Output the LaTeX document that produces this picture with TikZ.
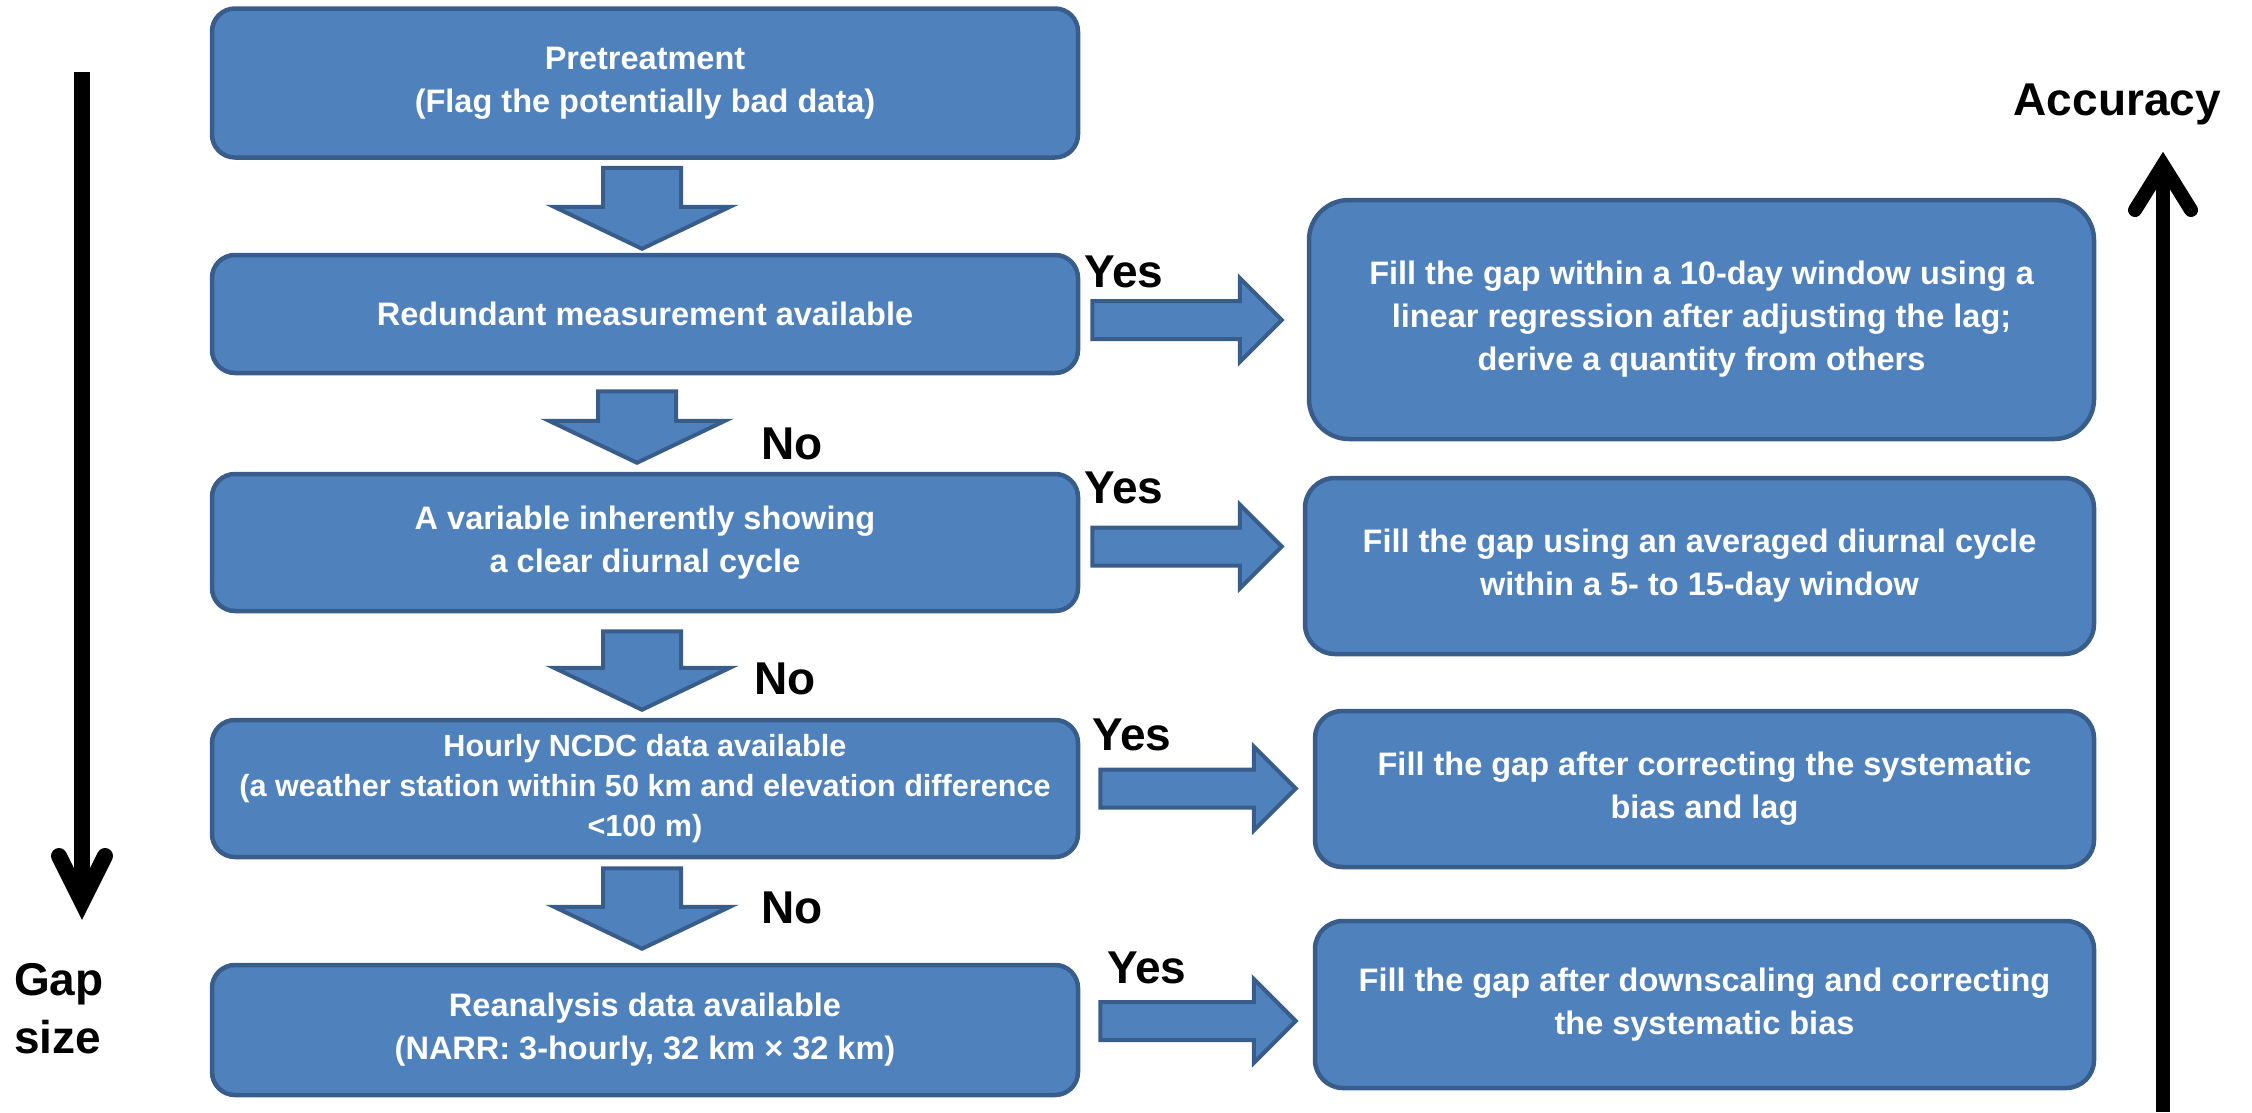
\documentclass[tikz,border=0pt]{standalone}
\usepackage{fontspec}
\setmainfont{Liberation Sans}
\usetikzlibrary{calc}
\definecolor{boxfill}{HTML}{4F81BD}
\definecolor{boxline}{HTML}{385D8A}
\begin{document}
\begin{tikzpicture}[x=1pt,y=-1pt,
  box/.style={draw=boxline, fill=boxfill, line width=4.5pt, text=white, align=center, inner sep=0pt,
    font=\bfseries\fontsize{32.5}{43}\selectfont},
  lbox/.style={box, minimum width=866pt, rounded corners=23pt},
  rbox/.style={box, rounded corners=#1},
  blk/.style={draw=boxline, fill=boxfill, line width=4pt, line join=miter},
  bdown/.style={to path={let \p1=(\tikztostart), \p2=(\tikztotarget) in
    (\x1-39pt,\y1) -- (\x1+39pt,\y1) -- (\x1+39pt,\y2+42pt) -- (\x1+88pt,\y2+42pt) -- (\x1,\y2)
    -- (\x1-88pt,\y2+42pt) -- (\x1-39pt,\y2+42pt) -- cycle}},
  bright/.style={to path={let \p1=(\tikztostart), \p2=(\tikztotarget) in
    (\x1,\y1+19pt) -- (\x2-42pt,\y1+19pt) -- (\x2-42pt,\y1+42pt) -- (\x2,\y1)
    -- (\x2-42pt,\y1-42pt) -- (\x2-42pt,\y1-19pt) -- (\x1,\y1-19pt) -- cycle}},
  lab/.style={font=\bfseries\fontsize{46}{58}\selectfont, inner sep=0pt, text=black},
  bigline/.style={draw=black, line width=#1},
]
\useasboundingbox (0,0) rectangle (2252,1112);

% left column
\node[lbox, minimum height=149pt] (L1) at (645,83) {Pretreatment\\(Flag the potentially bad data)};
\node[lbox, minimum height=118pt] (L2) at (645,314) {Redundant measurement available};
\node[lbox, minimum height=137pt] (L3) at (645,542.5) {A variable inherently showing\\a clear diurnal cycle};
\node[lbox, minimum height=137pt, font=\bfseries\fontsize{30.6}{40}\selectfont] (L4) at (645,788.5)
  {Hourly NCDC data available\\(a weather station within 50 km and elevation difference\\<100 m)};
\node[lbox, minimum height=130pt] (L5) at (645,1030) {Reanalysis data available\\(NARR: 3-hourly, 32 km \texttimes{} 32 km)};

% right column
\node[rbox=40pt, minimum width=785pt, minimum height=239pt] (R1) at (1701.5,319.5)
  {Fill the gap within a 10-day window using a\\linear regression after adjusting the lag;\\derive a quantity from others};
\node[rbox=30pt, minimum width=789pt, minimum height=176pt] (R2) at (1699.5,566)
  {Fill the gap using an averaged diurnal cycle\\within a 5- to 15-day window};
\node[rbox=27pt, minimum width=779pt, minimum height=156pt] (R3) at (1704.5,789)
  {Fill the gap after correcting the systematic\\bias and lag};
\node[rbox=28pt, minimum width=779pt, minimum height=167pt] (R4) at (1704.5,1004.5)
  {Fill the gap after downscaling and correcting\\the systematic bias};

% down block arrows
\draw[blk] ($(L1.south)+(-3,8)$) to[bdown] ($(L2.north)+(-3,-4)$);
\draw[blk] ($(L2.south)+(-8,16)$) to[bdown] ($(L3.north)+(-8,-9)$);
\draw[blk] ($(L3.south)+(-3,18)$) to[bdown] ($(L4.north)+(-3,-8)$);
\draw[blk] ($(L4.south)+(-3,9)$) to[bdown] ($(L5.north)+(-3,-14)$);

% right block arrows
\draw[blk] ($(L2.east)+(12,6)$) to[bright] ($(R1.west)+(-25,0)$);
\draw[blk] ($(L3.east)+(12,4)$) to[bright] ($(R2.west)+(-21,0)$);
\draw[blk] ($(L4.east)+(20,0)$) to[bright] ($(R3.west)+(-17,0)$);
\draw[blk] ($(L5.east)+(20,-9)$) to[bright] ($(R4.west)+(-17,0)$);

% Yes / No labels
\node[lab, anchor=base west] (y1) at (1084,287) {Yes};
\node[lab, anchor=base west] (y2) at (1084,503) {Yes};
\node[lab, anchor=base west] (y3) at (1092,750) {Yes};
\node[lab, anchor=base west] (y4) at (1107,983) {Yes};
\node[lab, anchor=base west] (n1) at (761,459) {No};
\node[lab, anchor=base west] (n2) at (754,694) {No};
\node[lab, anchor=base west] (n3) at (761,923) {No};

% gap size arrow
\coordinate (gtop) at (82,72);
\coordinate (gbot) at (82,902);
\draw[bigline=16pt] (gtop) -- (gbot);
\draw[bigline=16pt, line cap=round, line join=miter] (59,856) -- (gbot) -- (105,856);
\node[lab, anchor=north west, align=left] (gap) at (14,963) {Gap\\size};

% accuracy arrow
\coordinate (abot) at (2163,1112);
\coordinate (atop) at (2163,165);
\draw[bigline=14pt] (abot) -- (atop);
\draw[bigline=14pt, line cap=round, line join=miter] (2135,210) -- (atop) -- (2191,210);
\node[lab, anchor=base east] (acc) at (2221,115) {Accuracy};
\end{tikzpicture}
\end{document}
